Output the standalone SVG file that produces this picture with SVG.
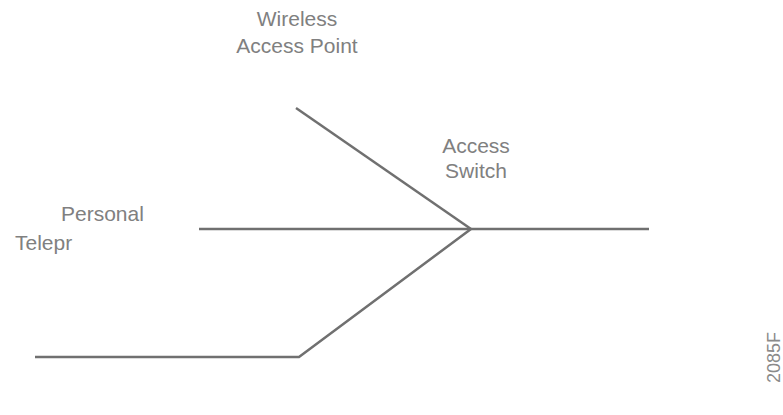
<svg xmlns="http://www.w3.org/2000/svg" width="783" height="415" viewBox="0 0 783 415">
  <style>
    .lbl { font-family: "Liberation Sans", Arial, sans-serif; font-size: 21px; fill: #808080; }
    .id { font-family: "Liberation Sans", Arial, sans-serif; font-size: 18px; fill: #8a8a8a; }
    .link { stroke: #707070; stroke-width: 2.5; fill: none; stroke-linejoin: miter; }
  </style>
  <rect width="783" height="415" fill="#ffffff"/>
  <g id="connectors">
    <line class="link" x1="296" y1="108" x2="471" y2="229"/>
    <line class="link" x1="199" y1="229" x2="649" y2="229"/>
    <polyline class="link" points="35,357 299,357 471,229"/>
  </g>
  <g id="wireless-ap">
    <text class="lbl" x="297" y="26" text-anchor="middle">Wireless</text>
    <text class="lbl" x="297" y="53" text-anchor="middle">Access Point</text>
  </g>
  <g id="access-switch">
    <text class="lbl" x="476" y="153" text-anchor="middle">Access</text>
    <text class="lbl" x="476" y="178" text-anchor="middle">Switch</text>
  </g>
  <g id="personal-telepresence">
    <text class="lbl" x="61" y="221">Personal</text>
    <text class="lbl" x="15" y="250">Telepr</text>
  </g>
  <text class="id" transform="translate(780,383) rotate(-90)">2085F</text>
</svg>
